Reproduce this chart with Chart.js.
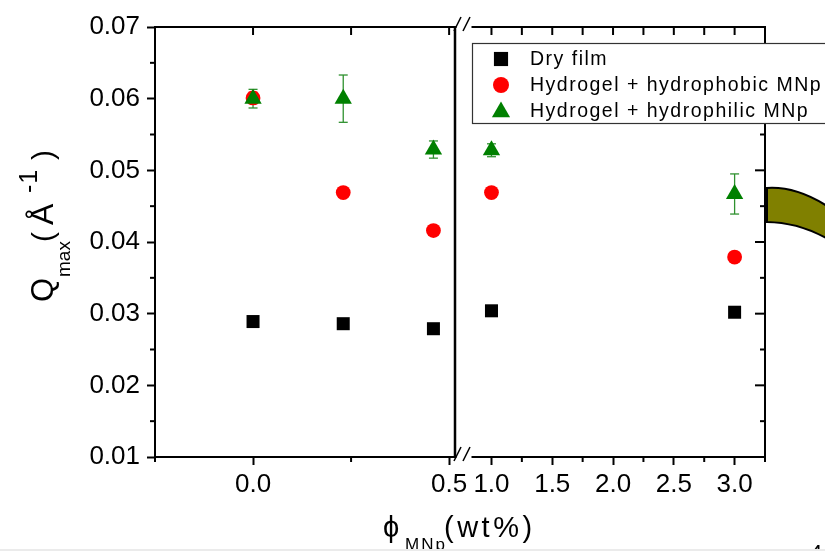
<!DOCTYPE html>
<html>
<head>
<meta charset="utf-8">
<script src="https://cdn.jsdelivr.net/npm/chart.js@4/dist/chart.umd.min.js"></script>
<style>
html,body{margin:0;padding:0;background:#fff;}
#wrap{position:relative;width:825px;height:551px;overflow:hidden;background:#fff;}
canvas{position:absolute;left:0;top:0;}
</style>
</head>
<body>
<div id="wrap">
<canvas id="cA" width="825" height="551"></canvas>
<canvas id="cB" width="825" height="551"></canvas>
</div>
<script>
// ---------- data ----------
const concentrations = [0.0, 0.23, 0.46, 1.0, 3.0];           // φ_MNp (wt%)
const dryFilm        = [0.0289, 0.0286, 0.0279, 0.0304, 0.0302];
const hydrophobic    = [0.0601, 0.0469, 0.0416, 0.0469, 0.0379];
const hydrophilic    = [0.0600, 0.0600, 0.0529, 0.0528, 0.0467];
const hydrophobicErr = [0.0008, 0, 0, 0, 0];
const hydrophilicErr = [0.0013, 0.0033, 0.0012, 0.0009, 0.0028];
const seriesNames    = ['Dry film', 'Hydrogel + hydrophobic MNp', 'Hydrogel + hydrophilic MNp'];
const leftRange  = [-0.25, 0.515];
const rightRange = [0.7, 3.25];
const yRange     = [0.01, 0.07];

const FONT = "'Liberation Sans', Arial, Helvetica, sans-serif";

function pts(vals, errs, range) {
  return concentrations.map((c, i) => ({x: c, y: vals[i], e: errs ? errs[i] : 0}))
    .filter(p => p.x >= range[0] && p.x <= range[1]);
}
function datasets(range) {
  return [
    {label: seriesNames[0], data: pts(dryFilm, null, range), pointStyle: 'rect', pointRadius: 9.2,
     backgroundColor: '#000', borderColor: '#000', borderWidth: 0, order: 2, errColor: '#000', legendR: 10},
    {label: seriesNames[1], data: pts(hydrophobic, hydrophobicErr, range), pointStyle: 'circle', pointRadius: 7.4,
     backgroundColor: '#ff0000', borderColor: '#ff0000', borderWidth: 0, order: 1, errColor: '#ff0000', legendR: 8},
    {label: seriesNames[2], data: pts(hydrophilic, hydrophilicErr, range), pointStyle: 'triangle', pointRadius: 10,
     backgroundColor: '#008000', borderColor: '#008000', borderWidth: 0, order: 0, errColor: '#2f912f', legendR: 10.5}
  ];
}

function line(ctx, x1, y1, x2, y2) { ctx.beginPath(); ctx.moveTo(x1, y1); ctx.lineTo(x2, y2); ctx.stroke(); }
function steps(a, b, s) { const out = []; for (let v = a; v <= b + 1e-9; v += s) out.push(Math.round(v * 10000) / 10000); return out; }

const errorBars = {
  id: 'errorBars',
  beforeDatasetsDraw(chart) {
    const ctx = chart.ctx, y = chart.scales.y;
    ctx.save();
    chart.data.datasets.forEach((ds, i) => {
      const meta = chart.getDatasetMeta(i);
      ctx.strokeStyle = ds.errColor; ctx.lineWidth = 1.3;
      ds.data.forEach((p, j) => {
        if (!p.e) return;
        const px = meta.data[j].x, t = y.getPixelForValue(p.y + p.e), b = y.getPixelForValue(p.y - p.e);
        line(ctx, px, t, px, b);
        line(ctx, px - 4.5, t, px + 4.5, t);
        line(ctx, px - 4.5, b, px + 4.5, b);
      });
    });
    ctx.restore();
  }
};

function textPiece(ctx, str, x, y, size, spacing) {
  ctx.font = size + 'px ' + FONT;
  ctx.letterSpacing = (spacing || 0) + 'px';
  ctx.fillText(str, x, y);
}

const frameA = {
  id: 'frameA',
  afterDraw(chart) {
    const ctx = chart.ctx, a = chart.chartArea, xs = chart.scales.x, ys = chart.scales.y;
    ctx.save();
    ctx.strokeStyle = '#000'; ctx.lineWidth = 2;
    line(ctx, a.left - 1, a.top, a.right + 1, a.top);
    ctx.lineWidth = 2.5;
    line(ctx, a.right, a.top, a.right, a.bottom);
    ctx.lineWidth = 2;
    // top ticks (inward)
    steps(0, 0.5, 0.25).forEach(v => { const px = xs.getPixelForValue(v); line(ctx, px, a.top, px, a.top + 8); });
    // bottom minor ticks
    [-0.25, 0.25].forEach(v => { const px = xs.getPixelForValue(v); line(ctx, px, a.bottom, px, a.bottom + 5); });
    // left minor ticks
    steps(0.015, 0.065, 0.01).forEach(v => { const py = ys.getPixelForValue(v); line(ctx, a.left, py, a.left - 5, py); });
    // y title
    ctx.fillStyle = '#000'; ctx.textBaseline = 'alphabetic'; ctx.textAlign = 'left';
    ctx.translate(53, 302); ctx.rotate(-Math.PI / 2);
    textPiece(ctx, 'Q', 0, 0, 31);
    textPiece(ctx, 'max', 25, 17, 19);
    textPiece(ctx, '(', 60, 0, 30);
    textPiece(ctx, 'Å', 77, 0, 32);
    textPiece(ctx, '-1', 109, -16, 25, 1);
    textPiece(ctx, ')', 142, 0, 30);
    ctx.setTransform(1, 0, 0, 1, 0, 0);
    // x title
    textPiece(ctx, 'ϕ', 383, 537, 29);
    textPiece(ctx, 'MNp', 405, 550, 17, 2);
    textPiece(ctx, '(wt%)', 444, 537, 29, 3.5);
    ctx.letterSpacing = '0px';
    ctx.restore();
  }
};

const frameB = {
  id: 'frameB',
  afterDraw(chart) {
    const ctx = chart.ctx, a = chart.chartArea, xs = chart.scales.x, ys = chart.scales.y;
    ctx.save();
    ctx.strokeStyle = '#000'; ctx.lineWidth = 2;
    line(ctx, a.left, a.top, a.right + 1, a.top);
    line(ctx, a.right, a.top, a.right, a.bottom + 1);
    steps(1.0, 3.25, 0.25).forEach(v => { const px = xs.getPixelForValue(v); line(ctx, px, a.top, px, a.top + 8); });
    steps(1.25, 3.25, 0.5).forEach(v => { const px = xs.getPixelForValue(v); line(ctx, px, a.bottom, px, a.bottom + 5); });
    steps(0.015, 0.065, 0.005).forEach((v, k) => {
      const py = ys.getPixelForValue(v);
      line(ctx, a.right, py, a.right - (k % 2 ? 10 : 5), py);
    });
    // axis break marks
    [a.top, a.bottom].forEach(yy => {
      ctx.fillStyle = '#fff';
      ctx.fillRect(a.left + 1.5, yy - 2, 15, 4);
      ctx.lineWidth = 1.5;
      line(ctx, a.left - 1, yy + 4, a.left + 6, yy - 10);
      line(ctx, a.left + 8, yy + 4, a.left + 15, yy - 10);
    });
    // decoration shape at right edge
    ctx.beginPath();
    ctx.moveTo(767, 188);
    ctx.quadraticCurveTo(797, 186, 830, 208);
    ctx.lineTo(830, 240);
    ctx.quadraticCurveTo(798, 222, 767, 222);
    ctx.closePath();
    ctx.fillStyle = '#808000'; ctx.fill();
    ctx.lineWidth = 2; ctx.strokeStyle = '#000'; ctx.stroke();
    // legend
    ctx.fillStyle = '#fff'; ctx.fillRect(472, 43, 360, 80);
    ctx.strokeStyle = '#333'; ctx.lineWidth = 1.2; ctx.strokeRect(472.5, 43.5, 360, 80);
    const rowsMarker = [59, 85, 112], rowsText = [65, 91, 117];
    chart.data.datasets.forEach((ds, i) => {
      ctx.fillStyle = ds.backgroundColor; ctx.strokeStyle = ds.borderColor;
      Chart.helpers.drawPoint(ctx, {pointStyle: ds.pointStyle, radius: ds.legendR, rotation: 0, borderWidth: 0}, 501, rowsMarker[i]);
      ctx.fillStyle = '#000'; ctx.textBaseline = 'alphabetic'; ctx.textAlign = 'left';
      textPiece(ctx, ds.label, 530, rowsText[i], 19.5, 1.5);
    });
    ctx.letterSpacing = '0px';
    // slide number fragment and bottom edge
    ctx.fillStyle = '#000'; ctx.font = '22px ' + FONT; ctx.fillText('4', 810, 560);
    ctx.fillStyle = '#ebebeb'; ctx.fillRect(0, 549, 825, 2);
    ctx.restore();
  }
};

const tickFont = {family: FONT, size: 26};
function makeChart(id, range, isLeft) {
  const yScale = isLeft ? {
      type: 'linear', min: yRange[0], max: yRange[1], position: 'left',
      ticks: {stepSize: 0.01, color: '#000', font: tickFont, padding: 7, callback: v => v.toFixed(2)},
      grid: {drawOnChartArea: false, tickLength: 8, tickWidth: 2, tickColor: '#000'},
      border: {display: true, color: '#000', width: 2},
      afterFit: s => { s.width = 155; s.paddingTop = 0; s.paddingBottom = 0; }
    } : {type: 'linear', min: yRange[0], max: yRange[1], display: false};
  return new Chart(document.getElementById(id), {
    type: 'scatter',
    data: {datasets: datasets(range)},
    options: {
      responsive: false, animation: false, devicePixelRatio: 1, events: [],
      layout: {padding: isLeft ? {left: 0, right: 370, top: 27, bottom: 0} : {left: 455, right: 60, top: 27, bottom: 0}},
      plugins: {legend: {display: false}, tooltip: {enabled: false}},
      scales: {
        x: {
          type: 'linear', min: range[0], max: range[1], position: 'bottom',
          ticks: {stepSize: 0.5, includeBounds: false, autoSkip: false, maxRotation: 0, color: '#000',
                  font: tickFont, padding: 4, callback: v => v.toFixed(1)},
          grid: {drawOnChartArea: false, tickLength: 8, tickWidth: 2, tickColor: '#000'},
          border: {display: true, color: '#000', width: 2},
          afterFit: s => { s.height = 94; s.paddingLeft = 0; s.paddingRight = 0; }
        },
        y: yScale
      }
    },
    plugins: [errorBars, isLeft ? frameA : frameB]
  });
}
makeChart('cA', leftRange, true);
makeChart('cB', rightRange, false);
</script>
</body>
</html>
